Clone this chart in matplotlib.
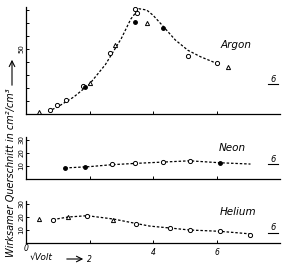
import matplotlib.pyplot as plt
import numpy as np

# Ramsauer-Kurven: wirksamer Querschnitt gegen Wurzel aus der Elektronenenergie
gases = ['Argon', 'Neon', 'Helium']

# Argon
ar_curve_x = [0.7, 1.0, 1.5, 2.0, 2.5, 3.0, 3.3, 3.55, 3.8, 4.0, 4.3, 4.7, 5.1, 5.5, 6.0]
ar_curve_y = [2, 5.5, 13, 23, 38, 58, 73, 81, 80, 76, 68, 57, 49, 44, 39]
ar_circ_x = [0.76, 0.98, 1.26, 1.8, 2.65, 3.44, 3.5, 5.1, 6.0]
ar_circ_y = [3, 7, 11, 21.5, 47, 81, 78, 45, 39]
ar_tri_x = [0.41, 2.0, 2.8, 3.8, 6.35]
ar_tri_y = [1.5, 24, 53, 70, 36]
ar_dot_x = [1.85, 3.44, 4.3]
ar_dot_y = [21, 71, 66]

# Neon
ne_curve_x = [1.23, 2.0, 2.7, 3.44, 4.3, 5.15, 6.1, 7.07]
ne_curve_y = [8.5, 9.5, 11, 12, 13, 14, 12.5, 11.5]
ne_circ_x = [2.7, 3.44, 4.3, 5.15]
ne_circ_y = [11.5, 12, 13, 14]
ne_dot_x = [1.23, 1.86, 6.1]
ne_dot_y = [8.5, 9, 12.5]

# Helium
he_curve_x = [0.85, 1.33, 1.93, 2.74, 3.47, 3.9, 4.55, 5.15, 6.1, 7.07]
he_curve_y = [18, 20, 21, 18.5, 15, 13, 11.5, 10, 9, 7]
he_circ_x = [0.85, 1.93, 3.47, 4.55, 5.15, 6.1, 7.07]
he_circ_y = [17.5, 21, 15, 11.5, 10, 9, 6.5]
he_tri_x = [0.41, 1.33, 2.74]
he_tri_y = [18.5, 20, 18]

x_ticks = [0, 2, 4, 6]

W, H = 300, 267
fig = plt.figure(figsize=(W / 100, H / 100), dpi=100)
plt.rcParams['font.family'] = 'DejaVu Sans'


def make_ax(left, right, base, top, ymax):
    return fig.add_axes([left / W, (H - base) / H, (right - left) / W, (base - top) / H],
                        xlim=(0, 8), ylim=(0, ymax))


ax_ar = make_ax(26, 280, 114, 7.4, 82)
ax_ne = make_ax(26, 280, 179, 137.4, 32)
ax_he = make_ax(26, 280, 243, 201.4, 32)

for ax in (ax_ar, ax_ne, ax_he):
    ax.patch.set_alpha(0)
    for s in ('top', 'right'):
        ax.spines[s].set_visible(False)
    ax.spines['left'].set_linewidth(0.9)
    ax.spines['bottom'].set_linewidth(0.9)
    ax.set_xticks(x_ticks)
    ax.tick_params(direction='in', length=2.5, width=0.7, labelsize=5, pad=1)
    ax.set_xticklabels([])

dash = dict(color='black', linestyle=(0, (2, 1.5)), linewidth=0.9)
circ = dict(linestyle='none', marker='o', ms=3, mfc='white', mec='black', mew=0.7)
tri = dict(linestyle='none', marker='^', ms=3, mfc='white', mec='black', mew=0.7)
dot = dict(linestyle='none', marker='o', ms=2.5, color='black')

ax_ar.plot(ar_curve_x, ar_curve_y, **dash)
ax_ar.plot(ar_circ_x, ar_circ_y, **circ)
ax_ar.plot(ar_tri_x, ar_tri_y, **tri)
ax_ar.plot(ar_dot_x, ar_dot_y, **dot)
ax_ar.set_yticks([10, 20, 30, 40, 50, 60, 70, 80])
ax_ar.set_yticklabels(['', '', '', '', '50', '', '', ''], rotation=90, va='center')

ax_ne.plot(ne_curve_x, ne_curve_y, **dash)
ax_ne.plot(ne_circ_x, ne_circ_y, **circ)
ax_ne.plot(ne_dot_x, ne_dot_y, **dot)
ax_ne.set_yticks([10, 20, 30])
ax_ne.set_yticklabels(['10', '20', '30'], rotation=90, va='center')

ax_he.plot(he_curve_x, he_curve_y, **dash)
ax_he.plot(he_circ_x, he_circ_y, **circ)
ax_he.plot(he_tri_x, he_tri_y, **tri)
ax_he.set_yticks([10, 20, 30])
ax_he.set_yticklabels(['10', '20', '30'], rotation=90, va='center')
ax_he.set_xticklabels(['0', '', '', ''], fontsize=5.5, style='italic')
ax_he.text(2, -9, '2', fontsize=5.5, style='italic', ha='center', va='top')
ax_he.text(4, -4, '4', fontsize=5.5, style='italic', ha='center', va='top')
ax_he.text(6, -4, '6', fontsize=5.5, style='italic', ha='center', va='top')

# Beschriftungen
lab = dict(fontsize=7.5, style='italic', ha='center', va='center')
fig.text(236 / W, 1 - 45 / H, gases[0], **lab)
fig.text(232 / W, 1 - 148 / H, gases[1], **lab)
fig.text(238 / W, 1 - 212 / H, gases[2], **lab)
for yy in (79, 159, 228):
    fig.text(273 / W, 1 - yy / H, '6', fontsize=6, style='italic', ha='center', va='center')
    fig.lines.append(plt.Line2D([268 / W, 278 / W], [1 - (yy + 5) / H] * 2,
                                transform=fig.transFigure, color='black', lw=0.8))

fig.text(11 / W, 1 - 173 / H, 'Wirksamer Querschnitt in cm\u00b2/cm\u00b3',
         fontsize=7.0, style='italic', rotation=90, ha='center', va='center')
fig.add_artist(plt.Annotation('', xy=(12 / W, 1 - 57 / H), xytext=(12 / W, 1 - 88 / H),
                              xycoords='figure fraction',
                              arrowprops=dict(arrowstyle='->', lw=0.8, color='black')))
fig.text(30 / W, 1 - 257 / H, '\u221aVolt', fontsize=6.5, style='italic', ha='left', va='center')
fig.add_artist(plt.Annotation('', xy=(86 / W, 1 - 259 / H), xytext=(64 / W, 1 - 259 / H),
                              xycoords='figure fraction',
                              arrowprops=dict(arrowstyle='->', lw=0.8, color='black')))

fig.savefig('out.png', dpi=100)
